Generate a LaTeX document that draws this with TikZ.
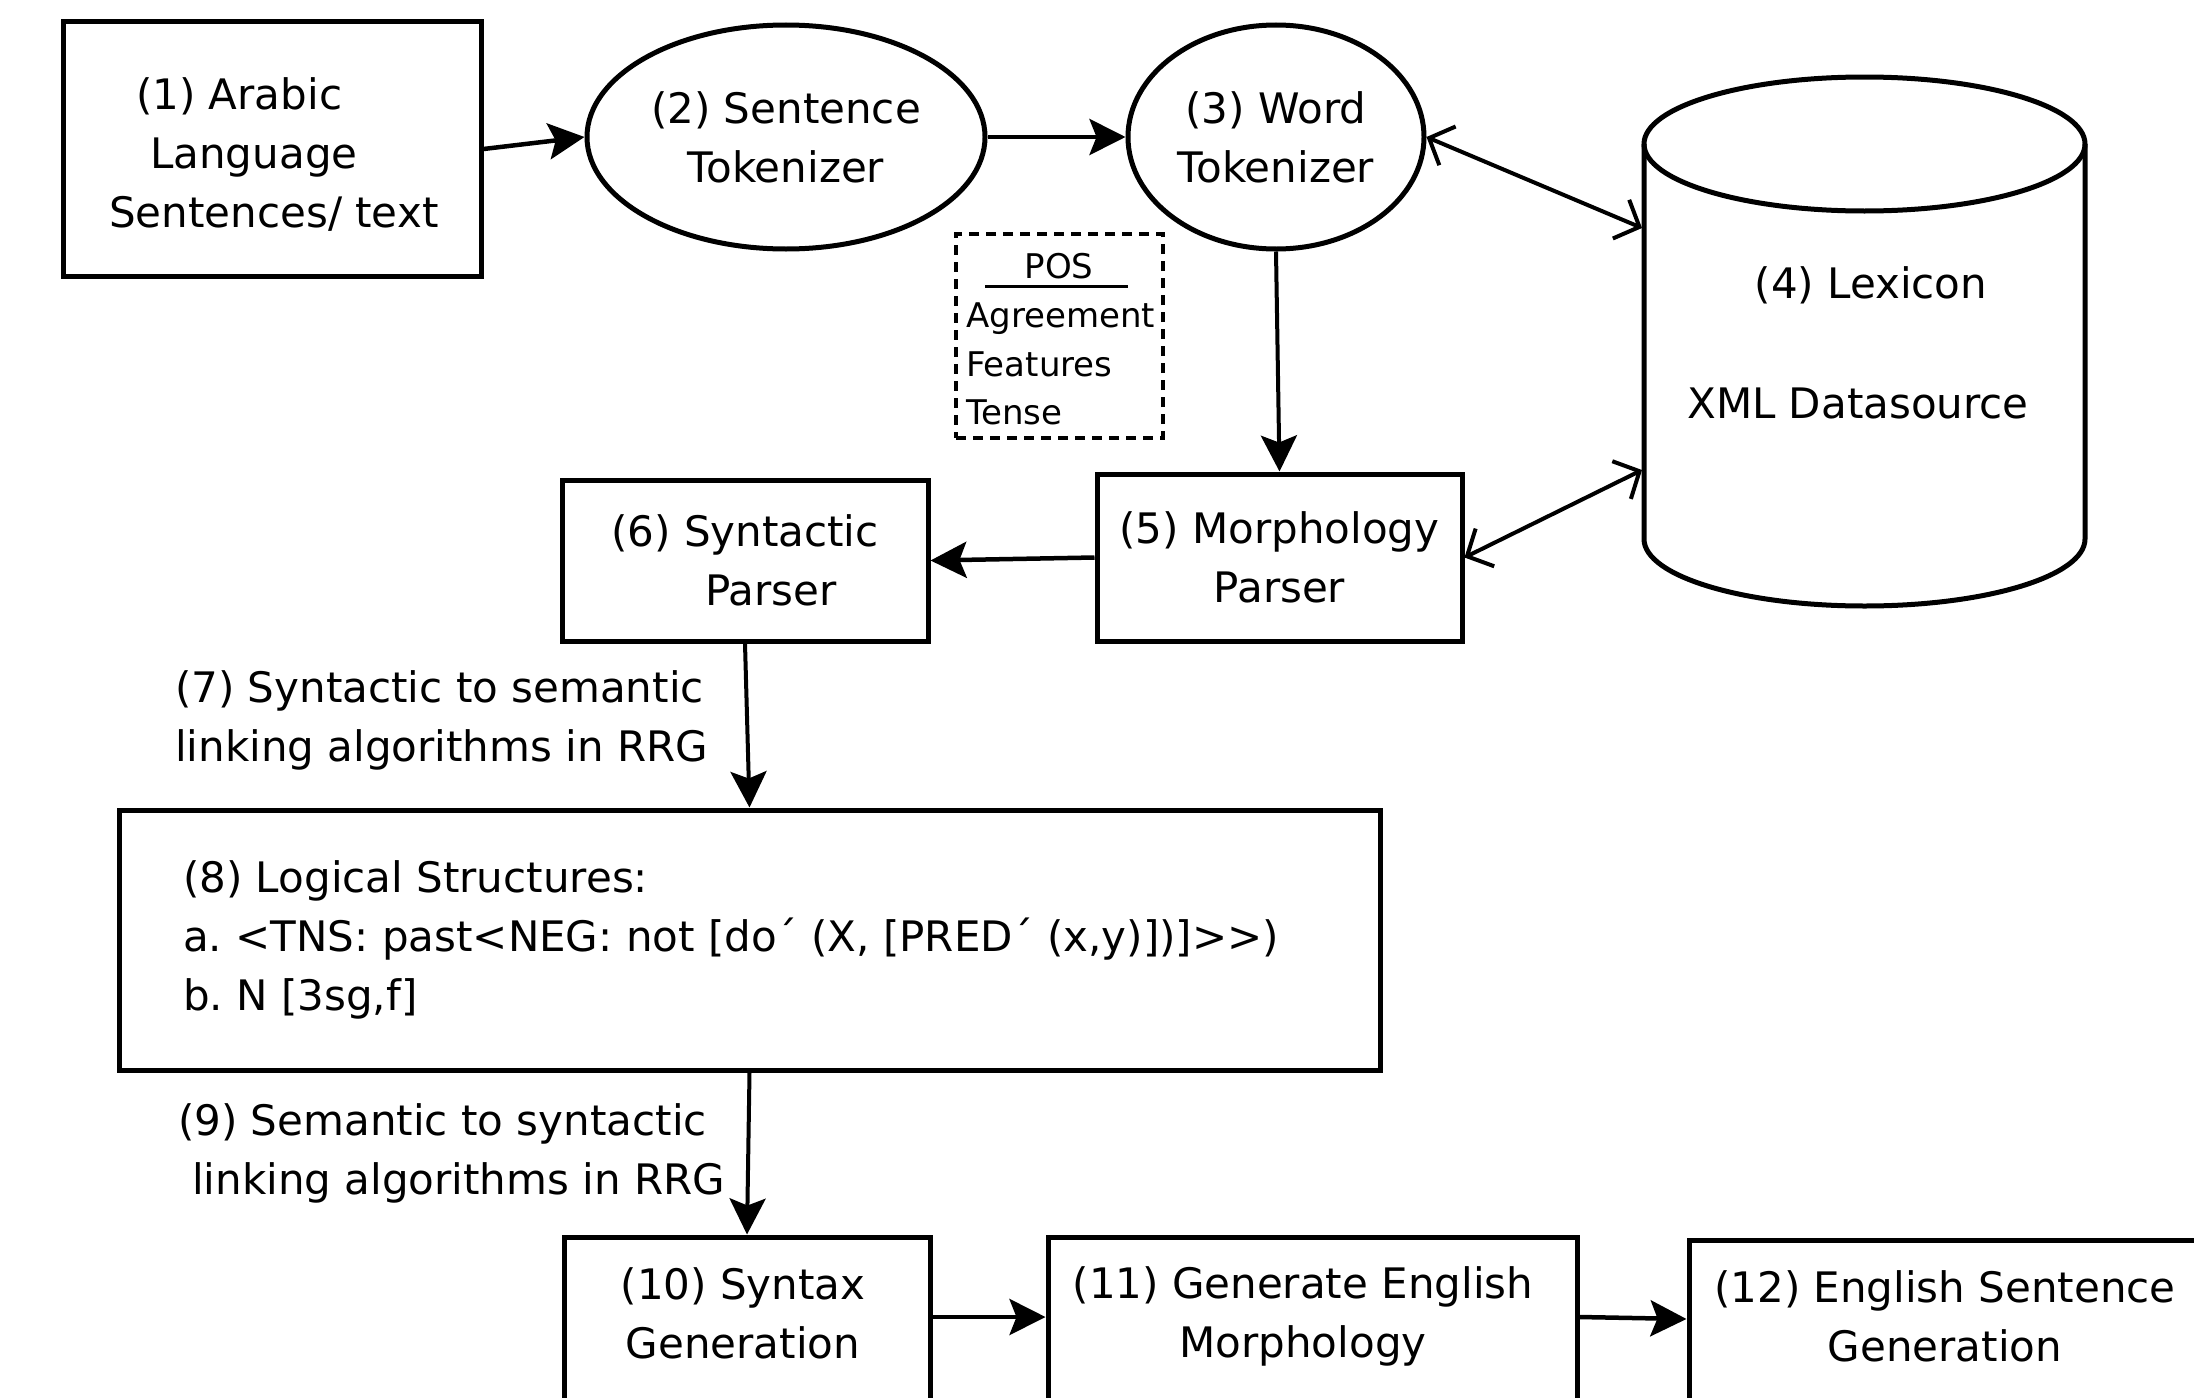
\documentclass[tikz,border=0pt]{standalone}
\usepackage{fontspec}
\setmainfont{DejaVu Sans}
\usetikzlibrary{arrows.meta,shapes.geometric}
\frenchspacing
\begin{document}
\begin{tikzpicture}[x=1pt,y=-1pt,
  box/.style={draw, rectangle, line width=5pt, inner sep=0pt},
  ell/.style={draw, ellipse, line width=5pt, inner sep=0pt},
  txt/.style={font=\fontsize{42}{59}\selectfont, inner sep=0pt},
  small/.style={font=\fontsize{34}{48.5}\selectfont, inner sep=0pt},
  arr/.style={-{Stealth[length=36pt,width=36pt,inset=7pt]}, line width=4.5pt},
  darr/.style={{Straight Barb[length=20pt,width=42pt]}-{Straight Barb[length=20pt,width=42pt]}, line width=4pt}]
\useasboundingbox (0,0) rectangle (2194,1397);
\clip (0,0) rectangle (2194,1397);
\fill[white] (0,0) rectangle (2194,1397);

% (1)
\node[box, minimum width=418pt, minimum height=254pt] (n1) at (272,149) {};
\node[txt, align=left, anchor=west] (t1) at (109,154) {\hspace*{27pt}(1) Arabic\\\hspace*{41pt}Language\\Sentences/ text};
% (2), (3)
\node[ell, minimum width=398pt, minimum height=224pt, txt, align=center, draw, line width=5pt] (n2) at (786,137) {(2) Sentence\\Tokenizer};
\node[ell, minimum width=296pt, minimum height=224pt, txt, align=center, draw, line width=5pt] (n3) at (1276,137) {(3) Word\\Tokenizer};

% (4) cylinder
\draw[line width=5pt] (1644,144) -- (1644,539) arc (180:0:220.5 and 67) -- (2085,144);
\draw[line width=5pt] (1864.5,144) ellipse (220.5 and 67);
\node[txt] (lex) at (1871,285) {(4) Lexicon};
\node[txt] (lexb) at (1858,403) {XML Datasource};
\coordinate (c4a) at (1642,228);
\coordinate (c4b) at (1642,470);

% POS box
\node[draw, dashed, dash pattern=on 10pt off 7pt, line width=4pt, minimum width=207pt, minimum height=204pt, inner sep=0pt] (pos) at (1059.5,336) {};
\node[small] (post) at (1059,266) {POS};
\draw[line width=3pt] (985,286) -- (1128,286);
\node[small, align=left, anchor=west] (posb) at (966,364) {Agreement\\Features\\Tense};

% (5), (6)
\node[box, minimum width=365pt, minimum height=167pt, txt, align=center] (n5) at (1279.5,557.5) {(5) Morphology\\Parser};
\node[box, minimum width=366pt, minimum height=161pt, txt, align=left] (n6) at (745,560.5) {(6) Syntactic\\\hspace*{94pt}Parser};

% (7)
\node[txt, align=left, anchor=west] (t7) at (175,720) {(7) Syntactic to semantic\\linking algorithms in RRG};

% (8)
\node[box, minimum width=1261pt, minimum height=260pt] (n8) at (749.5,940) {};
\node[txt, align=left, anchor=west] (t8) at (183,940) {(8) Logical Structures:\\a. <TNS: past<NEG: not [do´ (X, [PRED´ (x,y)])]>{}>)\\b. N [3sg,f]};

% (9)
\node[txt, align=left, anchor=west] (t9) at (178,1153) {(9) Semantic to syntactic\\\hspace*{14pt}linking algorithms in RRG};

% (10)-(12)
\node[box, minimum width=366pt, minimum height=200pt] (n10) at (747,1337) {};
\node[txt, align=center] (t10) at (743,1313) {(10) Syntax\\Generation};
\node[box, minimum width=529pt, minimum height=200pt] (n11) at (1312.5,1337) {};
\node[txt, align=center] (t11) at (1303,1316) {(11) Generate English\\Morphology};
\node[box, minimum width=541pt, minimum height=200pt] (n12) at (1959.5,1340) {};
\node[txt, align=center] (t12) at (1945,1316) {(12) English Sentence\\Generation};

% connectors
\draw[arr] (n1.east) -- (n2.west);
\draw[arr] (n2.east) -- (n3.west);
\draw[arr, line width=4pt] (n3.south) -- (n5.north);
\draw[darr] (n3.east) -- (c4a);
\draw[darr] (n5.east) -- (c4b);
\draw[arr] (n5.west) -- (n6.east);
\draw[arr, line width=4pt] (n6.south) -- (n8.north);
\draw[arr, line width=4pt] (n8.south) -- (n10.north);
\draw[arr] ([yshift=20pt]n10.east) -- ([yshift=20pt]n11.west);
\draw[arr] ([yshift=20pt]n11.east) -- ([yshift=21pt]n12.west);
\end{tikzpicture}
\end{document}
